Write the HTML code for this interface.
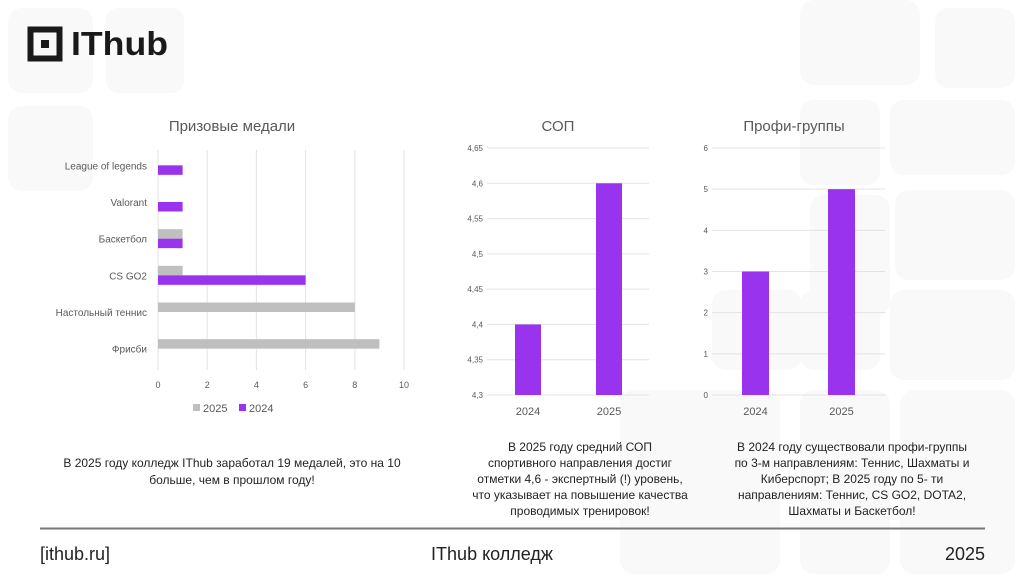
<!DOCTYPE html>
<html><head><meta charset="utf-8">
<style>
body{margin:0;width:1024px;height:574px;overflow:hidden;background:#fff;font-family:"Liberation Sans","DejaVu Sans",sans-serif;}
svg text{font-family:"Liberation Sans","DejaVu Sans",sans-serif;}
</style></head>
<body>
<svg id="s" width="1024" height="574" viewBox="0 0 1024 574" xmlns="http://www.w3.org/2000/svg">
<g fill="#f9f9f9">
<rect x="8" y="8" width="85" height="85" rx="14"/>
<rect x="106" y="8" width="78" height="85" rx="12"/>
<rect x="8" y="106" width="85" height="85" rx="14"/>
<rect x="935" y="8" width="80" height="80" rx="14"/>
<rect x="800" y="0" width="120" height="85" rx="14"/>
<rect x="800" y="100" width="80" height="85" rx="14"/>
<rect x="890" y="100" width="125" height="75" rx="14"/>
<rect x="810" y="195" width="80" height="120" rx="14"/>
<rect x="895" y="190" width="120" height="90" rx="14"/>
<rect x="712" y="290" width="90" height="80" rx="14"/>
<rect x="800" y="290" width="80" height="80" rx="14"/>
<rect x="890" y="290" width="125" height="90" rx="14"/>
<rect x="620" y="390" width="160" height="184" rx="14"/>
<rect x="800" y="390" width="90" height="184" rx="14"/>
<rect x="900" y="390" width="115" height="184" rx="14"/>
</g>
<g>
<rect x="30.5" y="29.5" width="29" height="29" fill="none" stroke="#1a1a1a" stroke-width="6"/>
<rect x="41" y="40" width="8" height="8" fill="#1a1a1a"/>
<text x="71" y="55" font-size="33" font-weight="bold" fill="#1a1a1a" textLength="97" lengthAdjust="spacingAndGlyphs">IThub</text>
</g>
<g id="c1"></g>
<g id="c2"></g>
<g id="c3"></g>
<g font-size="12" fill="#222" text-anchor="middle">
<text x="232" y="467"><tspan x="232">В 2025 году колледж IThub заработал 19 медалей, это на 10</tspan><tspan x="232" dy="17">больше, чем в прошлом году!</tspan></text>
<text x="580" y="451"><tspan x="580">В 2025 году средний СОП</tspan><tspan x="580" dy="16">спортивного направления  достиг</tspan><tspan x="580" dy="16">отметки 4,6 - экспертный (!) уровень,</tspan><tspan x="580" dy="16">что указывает на повышение качества</tspan><tspan x="580" dy="16">проводимых тренировок!</tspan></text>
<text x="852" y="451"><tspan x="852">В 2024 году существовали профи-группы</tspan><tspan x="852" dy="16">по 3-м направлениям: Теннис, Шахматы и</tspan><tspan x="852" dy="16">Киберспорт; В 2025 году по 5- ти</tspan><tspan x="852" dy="16">направлениям: Теннис, CS GO2, DOTA2,</tspan><tspan x="852" dy="16">Шахматы и Баскетбол!</tspan></text>
</g>
<line x1="40" y1="528.5" x2="985" y2="528.5" stroke="#777" stroke-width="2"/>
<text x="40" y="560" font-size="18" fill="#222">[ithub.ru]</text>
<text x="492" y="560" font-size="18" fill="#222" text-anchor="middle">IThub колледж</text>
<text x="985" y="560" font-size="18" fill="#222" text-anchor="end">2025</text>
</svg>
<script>
const medalCats=["League of legends","Valorant","Баскетбол","CS GO2","Настольный теннис","Фрисби"];
const medals2025=[0,0,1,1,8,9];
const medals2024=[1,1,1,6,0,0];
const medalTicks=[0,2,4,6,8,10];
const sopYears=["2024","2025"];
const sopValues=[4.4,4.6];
const sopTicks=[4.3,4.35,4.4,4.45,4.5,4.55,4.6,4.65];
const profiYears=["2024","2025"];
const profiValues=[3,5];
const profiTicks=[0,1,2,3,4,5,6];
const NS="http://www.w3.org/2000/svg";
function mk(p,t,a,txt){const e=document.createElementNS(NS,t);for(const k in a)e.setAttribute(k,a[k]);if(txt!==undefined)e.textContent=txt;p.appendChild(e);return e;}
(function(){
const g=document.getElementById('c1');
const x=v=>158+v*(246/10);
const top=150,bot=370,band=(bot-top)/medalCats.length;
const yc=i=>top+band*(i+0.5)-3;
let t=mk(g,'text',{x:232,y:131,'font-size':15,fill:'#595959','text-anchor':'middle'},'Призовые медали');

medalTicks.forEach(v=>{
let l=mk(g,'line',{x1:x(v),x2:x(v),y1:top,y2:bot,stroke:'#e3e3e3','stroke-width':1});

let tx=mk(g,'text',{x:x(v),y:388,'font-size':9,fill:'#595959','text-anchor':'middle'},String(v));

});
medalCats.forEach((c,i)=>{
let tx=mk(g,'text',{x:147,y:yc(i)+4,'font-size':10,fill:'#595959','text-anchor':'end'},c);

if(medals2025[i]>0){let r=mk(g,'rect',{x:x(0),y:yc(i)-9.5,width:x(medals2025[i])-x(0),height:9.5,fill:'#bfbfbf'});
}
if(medals2024[i]>0){let r=mk(g,'rect',{x:x(0),y:yc(i),width:x(medals2024[i])-x(0),height:9.5,fill:'#9933ee'});
}
});
let lg=mk(g,'g',{});

mk(lg,'rect',{x:193,y:404,width:7,height:7,fill:'#bfbfbf'});
mk(lg,'text',{x:203,y:412,'font-size':11,fill:'#595959'},'2025');
mk(lg,'rect',{x:239,y:404,width:7,height:7,fill:'#9933ee'});
mk(lg,'text',{x:249,y:412,'font-size':11,fill:'#595959'},'2024');
})();
function colChart(id,title,tx,x0,x1,cats,vals,ticks,fmt,barX,barW,nm){
const g=document.getElementById(id);
const mn=ticks[0],mx=ticks[ticks.length-1];
const y=v=>395-(v-mn)/(mx-mn)*247;
let t=mk(g,'text',{x:tx,y:131,'font-size':15,fill:'#595959','text-anchor':'middle'},title);

ticks.forEach(v=>{
let l=mk(g,'line',{x1:x0,x2:x1,y1:y(v),y2:y(v),stroke:'#e3e3e3','stroke-width':1});

let s=mk(g,'text',{x:x0-4,y:y(v)+3,'font-size':8,fill:'#595959','text-anchor':'end'},fmt(v));

});
cats.forEach((c,i)=>{
let r=mk(g,'rect',{x:barX[i],y:y(vals[i]),width:barW,height:y(mn)-y(vals[i]),fill:'#9933ee'});

let s=mk(g,'text',{x:barX[i]+barW/2,y:415,'font-size':11,fill:'#595959','text-anchor':'middle'},c);

});
}
colChart('c2','СОП',558,487,649,sopYears,sopValues,sopTicks,v=>String(+v.toFixed(2)).replace('.',','),[515,596],26,'sop');
colChart('c3','Профи-группы',794,712,885,profiYears,profiValues,profiTicks,v=>String(v),[742,828],27,'profi');
</script>
</body></html>
